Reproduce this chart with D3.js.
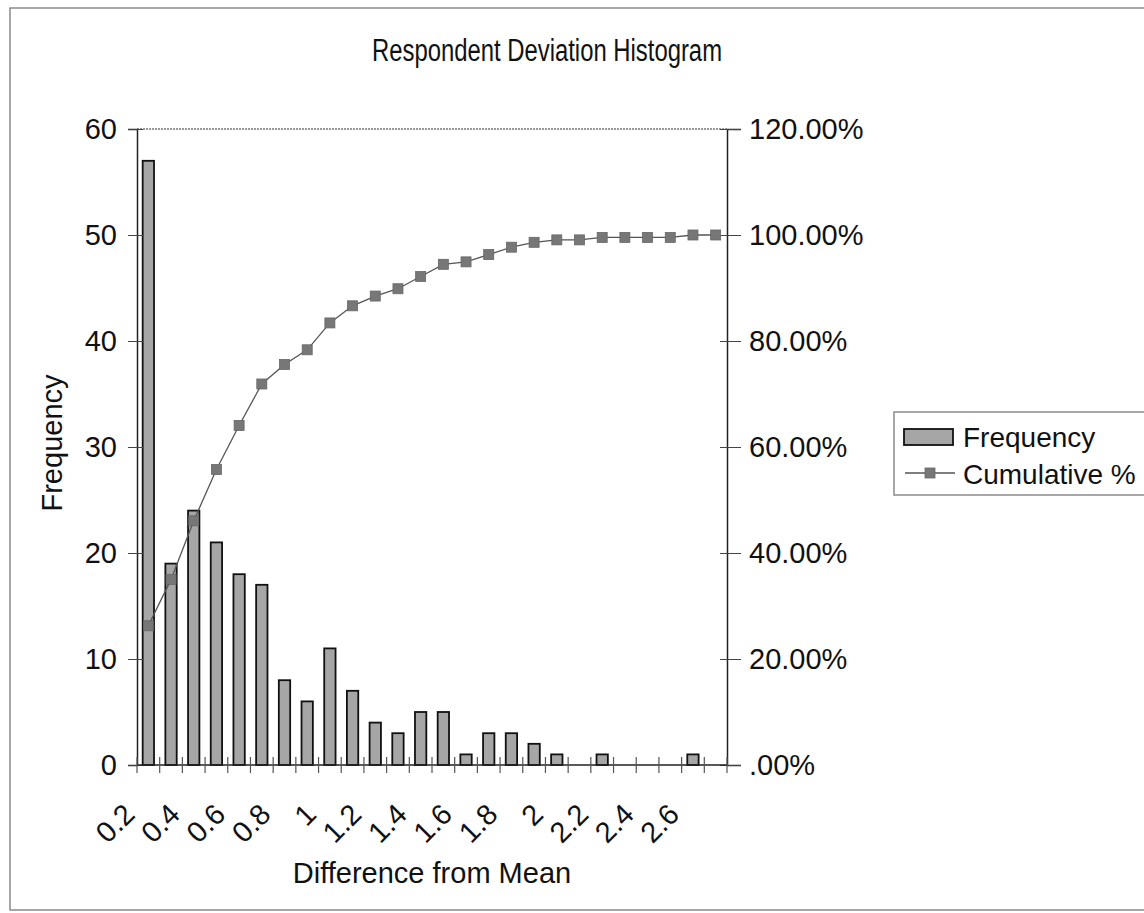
<!DOCTYPE html>
<meta charset="utf-8">
<style>
body { margin: 0; background: #fff; }
text { font-family: "Liberation Sans", Arial, sans-serif; fill: #111; }
.title { font-family: "Liberation Sans Narrow", "Arial Narrow", "Liberation Sans", sans-serif; }
</style>
<body>
<script src="https://d3js.org/d3.v7.min.js"></script>
<script>

// bins (Difference from Mean)
var categories = ["0.2","0.3","0.4","0.5","0.6","0.7","0.8","0.9","1","1.1","1.2","1.3","1.4",
                  "1.5","1.6","1.7","1.8","1.9","2","2.1","2.2","2.3","2.4","2.5","2.6","2.7"];
// frequency per bin
var frequency = [57,19,24,21,18,17,8,6,11,7,4,3,5,5,1,3,3,2,1,0,1,0,0,0,1,0];
// cumulative % per bin
var cumulative = [0.2627,0.3502,0.4608,0.5576,0.6406,0.7189,0.7558,0.7834,0.8341,0.8664,0.8848,0.8986,0.9217,
                  0.9447,0.9493,0.9631,0.9770,0.9862,0.9908,0.9908,0.9954,0.9954,0.9954,0.9954,1.0,1.0];
var leftTicks = [0,10,20,30,40,50,60];
var rightTicks = [0,0.2,0.4,0.6,0.8,1.0,1.2];

var W = 1144, H = 913;
var L = 137, R = 727, T = 129, B = 765;

var svg = d3.select("body").append("svg")
    .attr("width", W)
    .attr("height", H);

// outer chart border
svg.append("rect")
    .attr("x", 10).attr("y", 8)
    .attr("width", W + 20).attr("height", 902)
    .attr("fill", "none")
    .attr("stroke", "#8a8a8a")
    .attr("stroke-width", 1.5);

// scales
var x = d3.scaleBand().domain(categories).range([L, R]).paddingInner(0.5).paddingOuter(0.25);
var y = d3.scaleLinear().domain([0, 60]).range([B, T]);
var y2 = d3.scaleLinear().domain([0, 1.2]).range([B, T]);
var step = x.step();

// title
svg.append("text")
    .attr("class", "title")
    .attr("x", 547).attr("y", 61)
    .attr("text-anchor", "middle")
    .attr("font-size", "31px")
    .attr("textLength", 350)
    .attr("lengthAdjust", "spacingAndGlyphs")
    .text("Respondent Deviation Histogram");

// plot top border
svg.append("line")
    .attr("x1", L).attr("x2", R).attr("y1", T).attr("y2", T)
    .attr("stroke", "#7a7a7a").attr("stroke-width", 1.5)
    .attr("stroke-dasharray", "2,1");

// bars
svg.selectAll(".bar")
    .data(frequency)
  .enter().append("rect")
    .attr("class", "bar")
    .attr("x", function(d, i) { return x(categories[i]); })
    .attr("width", x.bandwidth())
    .attr("y", function(d) { return y(d); })
    .attr("height", function(d) { return B - y(d); })
    .attr("fill", function(d) { return d > 0 ? "#a6a6a6" : "none"; })
    .attr("stroke", function(d) { return d > 0 ? "#111" : "none"; })
    .attr("stroke-width", 1.8);

// left axis
var yAxis = svg.append("g")
    .attr("transform", "translate(" + L + ",0)")
    .call(d3.axisLeft(y).tickValues(leftTicks).tickSize(9).tickPadding(11));
yAxis.select(".domain").attr("stroke", "#222").attr("stroke-width", 1.5);
yAxis.selectAll(".tick line").attr("stroke", "#444").attr("x2", -9).attr("x1", 6);
yAxis.selectAll(".tick text").attr("font-size", "29px").attr("fill", "#111")
    .style("font-family", "'Liberation Sans', Arial, sans-serif");

// right axis
var pct = function(v) { return d3.format(".2%")(v).replace(/^0\./, "."); };
var yAxis2 = svg.append("g")
    .attr("transform", "translate(" + R + ",0)")
    .call(d3.axisRight(y2).tickValues(rightTicks).tickFormat(pct).tickSize(14).tickPadding(8));
yAxis2.select(".domain").attr("stroke", "#222").attr("stroke-width", 1.5);
yAxis2.selectAll(".tick line").attr("stroke", "#444").attr("x1", -7);
yAxis2.selectAll(".tick text").attr("font-size", "29px").attr("fill", "#111")
    .style("font-family", "'Liberation Sans', Arial, sans-serif");

// x axis line and tick marks between categories
svg.append("line")
    .attr("x1", L).attr("x2", R).attr("y1", B).attr("y2", B)
    .attr("stroke", "#222").attr("stroke-width", 1.5);
svg.selectAll(".xtick")
    .data(d3.range(categories.length + 1))
  .enter().append("line")
    .attr("x1", function(i) { return L + i * step; })
    .attr("x2", function(i) { return L + i * step; })
    .attr("y1", B - 8).attr("y2", B + 8)
    .attr("stroke", "#555").attr("stroke-width", 1.2);

// x labels, every second category
svg.selectAll(".xlabel")
    .data(categories.filter(function(c, i) { return i % 2 == 0; }))
  .enter().append("text")
    .attr("transform", function(c) {
      return "translate(" + (x(c) + x.bandwidth() / 2 - 12) + "," + 816 + ") rotate(-45)";
    })
    .attr("text-anchor", "end")
    .attr("font-size", "29px")
    .text(function(c) { return c; });

// cumulative line
var line = d3.line()
    .x(function(d, i) { return x(categories[i]) + x.bandwidth() / 2; })
    .y(function(d) { return y2(d); });
svg.append("path")
    .datum(cumulative)
    .attr("d", line)
    .attr("fill", "none")
    .attr("stroke", "#555")
    .attr("stroke-width", 1.3);
svg.selectAll(".mark")
    .data(cumulative)
  .enter().append("rect")
    .attr("x", function(d, i) { return x(categories[i]) + x.bandwidth() / 2 - 5; })
    .attr("y", function(d) { return y2(d) - 5; })
    .attr("width", 10).attr("height", 10)
    .attr("fill", "#777")
    .attr("stroke", "#666").attr("stroke-width", 0.8);

// axis titles
svg.append("text")
    .attr("x", 432).attr("y", 883)
    .attr("text-anchor", "middle")
    .attr("font-size", "29px")
    .text("Difference from Mean");
svg.append("text")
    .attr("transform", "translate(62,443) rotate(-90)")
    .attr("text-anchor", "middle")
    .attr("font-size", "29px")
    .text("Frequency");

// legend
var lg = svg.append("g");
lg.append("rect")
    .attr("x", 894).attr("y", 412).attr("width", 280).attr("height", 83)
    .attr("fill", "#fff").attr("stroke", "#8a8a8a").attr("stroke-width", 1.5);
lg.append("rect")
    .attr("x", 904).attr("y", 429).attr("width", 49).attr("height", 16)
    .attr("fill", "#a6a6a6").attr("stroke", "#111").attr("stroke-width", 1.8);
lg.append("text")
    .attr("x", 963).attr("y", 447)
    .attr("font-size", "28px")
    .text("Frequency");
lg.append("line")
    .attr("x1", 905).attr("x2", 955).attr("y1", 473).attr("y2", 473)
    .attr("stroke", "#555").attr("stroke-width", 1.3);
lg.append("rect")
    .attr("x", 925).attr("y", 468).attr("width", 10).attr("height", 10)
    .attr("fill", "#777").attr("stroke", "#666").attr("stroke-width", 0.8);
lg.append("text")
    .attr("x", 963).attr("y", 484)
    .attr("font-size", "28px")
    .text("Cumulative %");

</script>
</body>
